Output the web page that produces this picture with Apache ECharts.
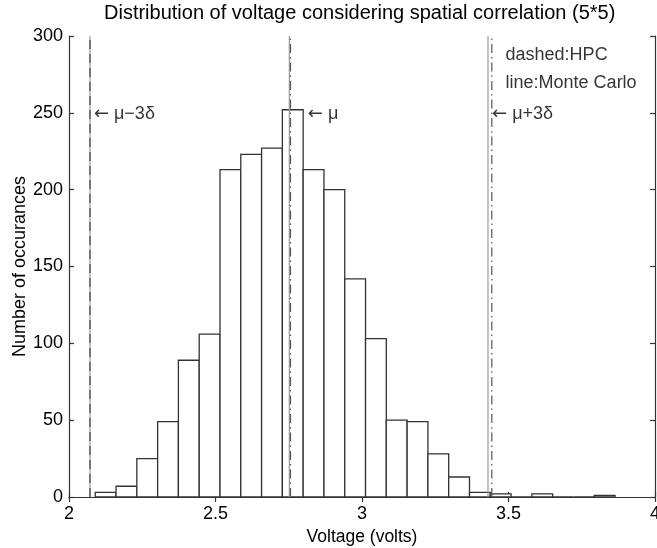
<!DOCTYPE html>
<html>
<head>
<meta charset="utf-8">
<script src="https://cdn.jsdelivr.net/npm/echarts@6/dist/echarts.min.js"></script>
<style>html,body{margin:0;padding:0;background:#fff;}#c{width:657px;height:548px;}</style>
</head>
<body>
<div id="c"></div>
<script>
// ---- data ----
var binEdges = [2.0896, 2.1606, 2.2315, 2.3025, 2.3734, 2.4444, 2.5154, 2.5863, 2.6573, 2.7282,
  2.7992, 2.8702, 2.9411, 3.0121, 3.0830, 3.1540, 3.2250, 3.2959, 3.3669, 3.4378,
  3.5088, 3.5798, 3.6507, 3.7217, 3.7926, 3.8636];
var counts = [3, 7, 25, 49, 89, 106, 213, 223, 227, 252, 213, 200, 142, 103, 50, 49, 28, 13, 3, 2, 0, 2, 0, 0, 1];
var monteCarloLines = [2.0716, 2.752, 3.430];   // mu-3d, mu, mu+3d (solid)
var hpcLines = [2.0716, 2.756, 3.443];          // mu-3d, mu, mu+3d (dashed)
var xTicks = [2, 2.5, 3, 3.5, 4];
var yTicks = [0, 50, 100, 150, 200, 250, 300];
var arrowLabels = ['\u03bc\u22123\u03b4', '\u03bc', '\u03bc+3\u03b4'];
var noteTexts = ['dashed:HPC', 'line:Monte Carlo'];

// ---- build ----
var histData = counts.map(function (c, i) { return [binEdges[i], binEdges[i + 1], c]; });
var FONT = '"Liberation Sans", Arial, Helvetica, sans-serif';
var TXT = '#000';
var YMAX = 300;

function vline(x, style) {
  return {
    type: 'line', data: [[x, 0], [x, YMAX]], symbol: 'none', silent: true, z: 5,
    lineStyle: style, animation: false
  };
}

var series = [{
  type: 'custom',
  data: histData,
  encode: { x: [0, 1], y: 2 },
  renderItem: function (params, api) {
    var p0 = api.coord([api.value(0), api.value(2)]);
    var p1 = api.coord([api.value(1), 0]);
    return {
      type: 'rect',
      shape: { x: p0[0], y: p0[1], width: p1[0] - p0[0], height: p1[1] - p0[1] },
      style: { fill: '#ffffff', stroke: '#333333', lineWidth: 1.3 }
    };
  },
  z: 2, animation: false
}];

monteCarloLines.forEach(function (x) {
  series.push(vline(x, { color: '#999999', width: 1.2, type: 'solid' }));
});
series.push(vline(hpcLines[0], { color: '#444444', width: 1.2, type: [9, 5] }));
series.push(vline(hpcLines[1], { color: '#555555', width: 1.2, type: [9, 4, 1.5, 4] }));
series.push(vline(hpcLines[2], { color: '#555555', width: 1.2, type: [9, 4, 1.5, 4] }));

// annotation text series
var annAnchors = [[2.085, 249], [2.815, 249], [3.444, 249], [3.49, 287.5], [3.49, 269.3]];
var annTexts = arrowLabels.map(function (t) { return '{a|\u2190} ' + t; }).concat(noteTexts);
series.push({
  type: 'scatter', symbolSize: 0, silent: true, z: 10, animation: false,
  data: annAnchors.map(function (a, i) {
    return { value: a, label: { formatter: annTexts[i] } };
  }),
  label: {
    show: true, position: 'right', distance: 0, color: TXT, fontFamily: FONT, fontSize: 18,
    align: 'left', verticalAlign: 'middle',
    rich: { a: { fontFamily: '"DejaVu Sans", sans-serif', fontSize: 18, color: TXT } }
  }
});

var axisLineStyle = { color: '#333', width: 1.2 };
var option = {
  backgroundColor: '#fff',
  animation: false,
  title: {
    text: 'Distribution of voltage considering spatial correlation (5*5)',
    left: 99, top: -2,
    textStyle: { fontFamily: FONT, fontSize: 20, fontWeight: 'normal', color: TXT }
  },
  grid: { left: 69, right: 2, top: 36, bottom: 51, outerBoundsMode: 'none', containLabel: false },
  xAxis: [{
    type: 'value', min: 2, max: 4, interval: 0.5,
    name: 'Voltage (volts)', nameLocation: 'middle', nameGap: 31, nameMoveOverlap: false,
    nameTextStyle: { fontFamily: FONT, fontSize: 17.5, color: TXT },
    axisLine: { show: true, lineStyle: axisLineStyle },
    axisTick: { show: true, inside: true, length: 5, lineStyle: axisLineStyle },
    axisLabel: { fontFamily: FONT, fontSize: 18, color: TXT, margin: 8,
      formatter: function (v) { return xTicks.indexOf(v) >= 0 ? String(v) : ''; } },
    splitLine: { show: false }
  }, {
    type: 'value', min: 2, max: 4, interval: 0.5, position: 'top',
    axisLine: { show: true, lineStyle: axisLineStyle },
    axisTick: { show: true, inside: true, length: 5, lineStyle: axisLineStyle },
    axisLabel: { show: false }, splitLine: { show: false }
  }],
  yAxis: [{
    type: 'value', min: 0, max: 300, interval: 50,
    name: 'Number of occurances', nameLocation: 'middle', nameGap: 40, nameMoveOverlap: false,
    nameTextStyle: { fontFamily: FONT, fontSize: 18, color: TXT },
    axisLine: { show: true, lineStyle: axisLineStyle },
    axisTick: { show: true, inside: true, length: 5, lineStyle: axisLineStyle },
    axisLabel: { fontFamily: FONT, fontSize: 18, color: TXT, margin: 6,
      formatter: function (v) { return yTicks.indexOf(v) >= 0 ? String(v) : ''; } },
    splitLine: { show: false }
  }, {
    type: 'value', min: 0, max: 300, interval: 50, position: 'right',
    axisLine: { show: true, lineStyle: axisLineStyle },
    axisTick: { show: true, inside: true, length: 5, lineStyle: axisLineStyle },
    axisLabel: { show: false }, splitLine: { show: false }
  }],
  series: series
};

var chart = echarts.init(document.getElementById('c'), null, { renderer: 'canvas' });
chart.setOption(option);
</script>
</body>
</html>
